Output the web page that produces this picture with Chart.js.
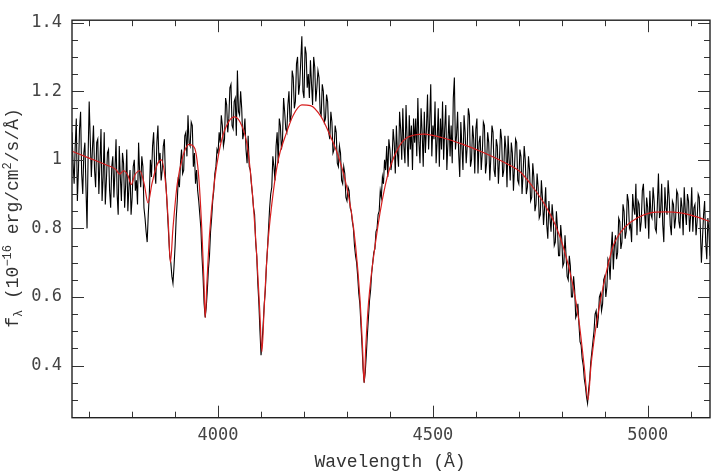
<!DOCTYPE html>
<html>
<head>
<meta charset="utf-8">
<script src="https://cdn.jsdelivr.net/npm/chart.js@4/dist/chart.umd.min.js"></script>
<style>
  html, body { margin: 0; padding: 0; background: #fff; }
  #wrap { width: 717px; height: 472px; }
</style>
</head>
<body>
<div id="wrap"><canvas id="c" width="717" height="472"></canvas></div>
<script>
// ---- data ----
const obsStart = 3660;   // Å, first observed sample
const obsStep = 2.5;     // Å between observed samples
const obsFlux = [
  1.08, 0.99, 0.93, 1.04, 1.12, 0.88, 0.97, 1.09, 1.14, 0.96, 0.90, 1.02, 1.05, 0.92, 0.80, 1.01, 1.17, 1.06, 0.95, 1.03,
  1.10, 0.97, 0.92, 1.05, 1.06, 0.90, 0.99, 1.09, 0.88, 0.95, 1.08, 0.87, 0.94, 1.02, 1.03, 0.91, 0.86, 0.98, 1.01, 0.89,
  0.97, 1.06, 0.90, 0.84, 1.04, 0.95, 0.88, 1.02, 0.99, 0.86, 0.93, 1.03, 0.85, 0.92, 0.97, 0.84, 0.89, 0.98, 1.00, 0.91,
  0.94, 0.87, 1.05, 0.96, 0.92, 1.01, 0.98, 0.86, 0.83, 0.79, 0.76, 0.84, 0.90, 1.00, 0.95, 1.04, 1.08, 0.97, 0.93, 1.05,
  1.10, 0.99, 1.02, 0.94, 0.97, 1.04, 1.06, 0.95, 0.90, 0.84, 0.78, 0.72, 0.70, 0.66, 0.64, 0.69, 0.75, 0.83, 0.88, 0.95,
  0.92, 0.99, 1.03, 0.96, 0.97, 1.07, 1.08, 1.01, 1.13, 1.05, 1.04, 1.11, 1.10, 0.98, 1.02, 0.93, 0.97, 0.91, 0.88, 0.84,
  0.80, 0.72, 0.66, 0.58, 0.54, 0.57, 0.62, 0.68, 0.72, 0.79, 0.83, 0.88, 0.91, 0.96, 0.98, 1.03, 1.02, 1.08, 1.05, 1.13,
  1.10, 1.04, 1.06, 1.18, 1.16, 1.08, 1.12, 1.21, 1.22, 1.10, 1.09, 1.17, 1.18, 1.07, 1.26, 1.14, 1.13, 1.20, 1.15, 1.06,
  1.08, 1.12, 1.03, 0.99, 1.07, 0.98, 0.97, 0.93, 0.90, 0.86, 0.84, 0.76, 0.72, 0.64, 0.58, 0.50, 0.43, 0.47, 0.52, 0.58,
  0.62, 0.69, 0.74, 0.80, 0.86, 0.90, 0.92, 1.01, 0.98, 0.94, 1.04, 1.08, 0.99, 1.12, 1.10, 1.03, 1.06, 1.18, 1.14, 1.09,
  1.08, 1.16, 1.20, 1.11, 1.13, 1.26, 1.24, 1.15, 1.17, 1.28, 1.30, 1.19, 1.22, 1.29, 1.36, 1.20, 1.18, 1.33, 1.31, 1.21,
  1.25, 1.18, 1.29, 1.22, 1.16, 1.30, 1.27, 1.17, 1.21, 1.26, 1.24, 1.14, 1.13, 1.22, 1.20, 1.11, 1.12, 1.19, 1.17, 1.08,
  1.06, 1.14, 1.11, 1.02, 1.03, 1.10, 1.08, 0.99, 0.98, 1.04, 1.02, 0.94, 0.93, 0.98, 0.96, 0.89, 0.88, 0.92, 0.91, 0.86,
  0.85, 0.82, 0.80, 0.75, 0.72, 0.70, 0.66, 0.61, 0.58, 0.52, 0.46, 0.39, 0.35, 0.38, 0.43, 0.49, 0.54, 0.59, 0.62, 0.67,
  0.70, 0.73, 0.74, 0.79, 0.80, 0.84, 0.85, 0.91, 0.89, 0.95, 0.93, 1.00, 0.97, 1.04, 0.95, 1.06, 1.03, 0.97, 1.00, 1.09,
  1.05, 0.96, 1.10, 1.02, 0.98, 1.14, 1.09, 1.00, 1.15, 1.04, 0.99, 1.16, 1.06, 0.98, 1.13, 1.03, 1.10, 0.97, 1.12, 1.05,
  1.12, 1.01, 1.18, 1.05, 0.99, 1.15, 1.08, 0.98, 1.14, 1.02, 1.09, 1.19, 1.03, 1.11, 1.22, 1.01, 1.10, 1.06, 1.17, 0.99,
  1.06, 1.15, 0.98, 1.12, 1.03, 1.17, 1.00, 1.09, 1.16, 0.97, 1.05, 1.13, 1.01, 1.10, 0.99, 1.18, 1.24, 1.03, 1.07, 1.14,
  1.02, 0.95, 1.11, 1.04, 0.97, 1.13, 1.08, 0.99, 1.04, 1.15, 1.13, 0.98, 1.00, 1.10, 1.06, 0.96, 1.09, 1.12, 0.96, 1.05,
  1.07, 0.97, 1.02, 1.11, 1.10, 0.96, 0.99, 1.08, 1.05, 0.94, 1.01, 1.10, 1.08, 0.97, 0.95, 1.06, 1.04, 0.93, 1.00, 1.09,
  1.06, 0.95, 0.97, 1.07, 1.03, 0.92, 1.07, 1.00, 0.94, 1.05, 1.02, 0.91, 0.98, 1.06, 1.05, 0.94, 0.93, 1.03, 1.01, 0.90,
  0.96, 1.04, 1.00, 0.90, 0.92, 1.01, 0.97, 0.88, 0.89, 0.99, 0.95, 0.85, 0.87, 0.96, 0.92, 0.83, 0.84, 0.94, 0.89, 0.81,
  0.86, 0.92, 0.81, 0.77, 0.88, 0.83, 0.79, 0.87, 0.83, 0.75, 0.76, 0.85, 0.80, 0.72, 0.72, 0.81, 0.77, 0.69, 0.70, 0.78,
  0.72, 0.66, 0.65, 0.72, 0.69, 0.60, 0.60, 0.66, 0.62, 0.54, 0.55, 0.58, 0.52, 0.47, 0.46, 0.42, 0.40, 0.36, 0.34, 0.31,
  0.29, 0.33, 0.36, 0.41, 0.44, 0.47, 0.50, 0.55, 0.56, 0.51, 0.54, 0.60, 0.61, 0.56, 0.58, 0.65, 0.66, 0.60, 0.63, 0.71,
  0.70, 0.65, 0.74, 0.79, 0.68, 0.75, 0.78, 0.71, 0.73, 0.83, 0.82, 0.74, 0.76, 0.87, 0.85, 0.77, 0.79, 0.90, 0.88, 0.80,
  0.81, 0.76, 0.90, 0.86, 0.84, 0.93, 0.78, 0.88, 0.87, 0.79, 0.82, 0.91, 0.93, 0.85, 0.80, 0.89, 0.86, 0.77, 0.91, 0.84,
  0.83, 0.92, 0.88, 0.80, 0.79, 0.87, 0.96, 0.83, 0.85, 0.93, 0.81, 0.76, 0.92, 0.86, 0.84, 0.94, 0.89, 0.81, 0.78, 0.88,
  0.87, 0.80, 0.83, 0.91, 0.90, 0.82, 0.80, 0.89, 0.86, 0.78, 0.92, 0.85, 0.81, 0.90, 0.88, 0.79, 0.84, 0.92, 0.79, 0.86,
  0.87, 0.78, 0.82, 0.90, 0.89, 0.80, 0.70, 0.77, 0.84, 0.88, 0.76, 0.71, 0.83, 0.79, 0.72
];
const modelWave = [
  3660, 3700, 3740, 3762, 3771, 3780, 3790, 3798, 3806, 3818,
  3828, 3837, 3846, 3858, 3868, 3878, 3884, 3889, 3895, 3905,
  3918, 3932, 3945, 3955, 3962, 3967, 3970, 3974, 3980, 3990,
  4005, 4020, 4038, 4055, 4068, 4080, 4090, 4097, 4102, 4107,
  4115, 4125, 4140, 4156, 4175, 4195, 4215, 4240, 4261, 4280,
  4296, 4310, 4320, 4330, 4336, 4340, 4344, 4350, 4366, 4389,
  4410, 4440, 4480, 4520, 4570, 4620, 4670, 4703, 4730, 4760,
  4785, 4805, 4825, 4840, 4852, 4861, 4868, 4878, 4890, 4905,
  4920, 4948, 4975, 5006, 5040, 5076, 5110, 5145
];
const modelFlux = [
  1.025, 1.005, 0.985, 0.972, 0.958, 0.968, 0.955, 0.928, 0.955, 0.968,
  0.930, 0.874, 0.930, 0.985, 1.000, 0.930, 0.820, 0.700, 0.800, 0.930,
  1.010, 1.045, 1.035, 0.950, 0.800, 0.650, 0.540, 0.640, 0.780, 0.920,
  1.040, 1.100, 1.125, 1.100, 1.040, 0.900, 0.720, 0.560, 0.440, 0.560,
  0.740, 0.870, 1.000, 1.067, 1.130, 1.160, 1.158, 1.125, 1.070, 1.010,
  0.940, 0.850, 0.750, 0.600, 0.460, 0.350, 0.460, 0.580, 0.755, 0.925,
  1.010, 1.065, 1.075, 1.065, 1.045, 1.020, 0.990, 0.965, 0.925, 0.870,
  0.810, 0.740, 0.640, 0.530, 0.400, 0.300, 0.400, 0.500, 0.590, 0.680,
  0.750, 0.805, 0.830, 0.845, 0.848, 0.845, 0.835, 0.820
];
const xTickLabels = [4000, 4500, 5000];
const yTickLabels = [0.4, 0.6, 0.8, 1, 1.2, 1.4];
const xRange = [3660, 5145];
const yRange = [0.248, 1.407];
const xTitle = 'Wavelength (Å)';

// ---- build datasets ----
const obsPoints = obsFlux.map((f, i) => ({ x: obsStart + i * obsStep, y: f }));
const modelPoints = modelWave.map((w, i) => ({ x: w, y: modelFlux[i] }));

const near = (v, arr) => arr.some(a => Math.abs(a - v) < 1e-6);

const framePlugin = {
  id: 'frame',
  afterDatasetsDraw(chart) {
    const { ctx, chartArea: a, scales: { x, y } } = chart;
    ctx.save();
    ctx.strokeStyle = '#333';
    ctx.lineWidth = 1;
    for (let v = 3700; v <= 5100; v += 100) {
      const px = Math.round(x.getPixelForValue(v)) + 0.5;
      const len = (v % 500 === 0) ? 12 : 6;
      ctx.beginPath();
      ctx.moveTo(px, a.bottom); ctx.lineTo(px, a.bottom - len);
      ctx.moveTo(px, a.top); ctx.lineTo(px, a.top + len);
      ctx.stroke();
    }
    for (let i = 5; i <= 28; i++) {
      const v = i * 0.05;
      const py = Math.round(y.getPixelForValue(v)) + 0.5;
      const len = (i % 4 === 0) ? 12 : 6;
      ctx.beginPath();
      ctx.moveTo(a.left, py); ctx.lineTo(a.left + len, py);
      ctx.moveTo(a.right, py); ctx.lineTo(a.right - len, py);
      ctx.stroke();
    }
    ctx.lineWidth = 1.4;
    ctx.strokeStyle = '#222';
    ctx.strokeRect(a.left, a.top, a.right - a.left, a.bottom - a.top);

    ctx.fillStyle = '#333';
    ctx.font = '18px "Liberation Mono"';
    ctx.textAlign = 'center';
    ctx.textBaseline = 'alphabetic';
    ctx.fillText(xTitle, (a.left + a.right) / 2 - 1, 467);

    const big = '18px "Liberation Mono"';
    const small = '12px "Liberation Mono"';
    const parts = [
      { t: 'f', f: big, dy: 0 },
      { t: 'λ', f: small, dy: 4 },
      { t: ' (10', f: big, dy: 0 },
      { t: '−16', f: small, dy: -7 },
      { t: ' erg/cm', f: big, dy: 0 },
      { t: '2', f: small, dy: -7 },
      { t: '/s/Å)', f: big, dy: 0 }
    ];
    let total = 0;
    parts.forEach(p => { ctx.font = p.f; p.w = ctx.measureText(p.t).width; total += p.w; });
    ctx.translate(18, 218);
    ctx.rotate(-Math.PI / 2);
    ctx.textAlign = 'left';
    let cx = -total / 2;
    parts.forEach(p => { ctx.font = p.f; ctx.fillText(p.t, cx, p.dy); cx += p.w; });
    ctx.restore();
  }
};

new Chart(document.getElementById('c'), {
  type: 'line',
  data: {
    datasets: [
      {
        label: 'model',
        data: modelPoints,
        borderColor: 'rgb(215,30,30)',
        borderWidth: 1.2,
        pointRadius: 0,
        cubicInterpolationMode: 'monotone',
        order: 0
      },
      {
        label: 'observed',
        data: obsPoints,
        borderColor: '#000',
        borderWidth: 1.1,
        pointRadius: 0,
        tension: 0,
        order: 1
      }
    ]
  },
  options: {
    responsive: false,
    animation: false,
    layout: { padding: { top: 11, right: 7, left: 0, bottom: 0 } },
    plugins: { legend: { display: false }, tooltip: { enabled: false }, title: { display: false } },
    scales: {
      x: {
        type: 'linear',
        min: xRange[0], max: xRange[1],
        grid: { display: false, drawTicks: false },
        border: { display: false },
        ticks: {
          stepSize: 100, includeBounds: false, autoSkip: false, maxRotation: 0,
          padding: 8,
          color: '#444',
          font: { family: 'DejaVu Sans Mono', size: 17 },
          callback: v => near(v, xTickLabels) ? String(v) : ''
        },
        afterFit: s => { s.height = 54.3; }
      },
      y: {
        type: 'linear',
        min: yRange[0], max: yRange[1],
        grid: { display: false, drawTicks: false },
        border: { display: false },
        ticks: {
          stepSize: 0.05, includeBounds: false, autoSkip: false,
          padding: 10,
          color: '#444',
          font: { family: 'DejaVu Sans Mono', size: 17 },
          callback: v => near(v, yTickLabels) ? String(Math.round(v * 10) / 10) : ''
        },
        afterFit: s => { s.width = 72; }
      }
    }
  },
  plugins: [framePlugin]
});
</script>
</body>
</html>
